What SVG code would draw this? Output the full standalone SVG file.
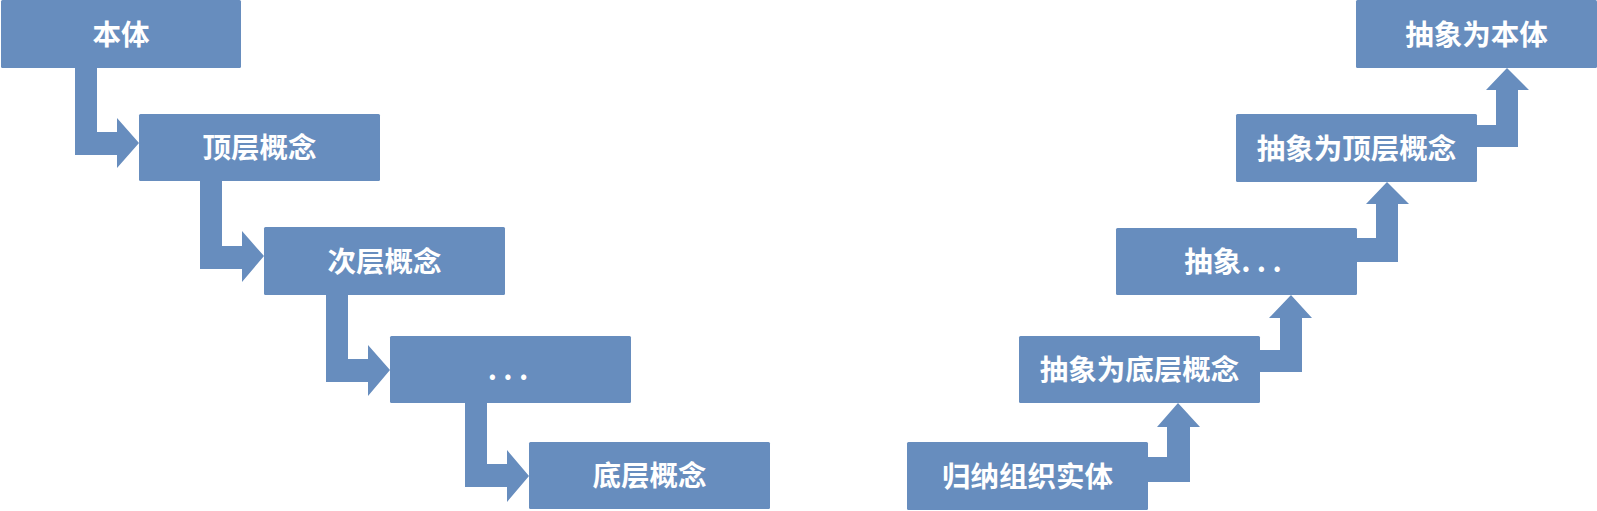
<svg xmlns="http://www.w3.org/2000/svg" width="1597" height="511" viewBox="0 0 1597 511">
<style>
.box{fill:#678DBE;}
.arrow{fill:#678DBE;}
.lbl{fill:#ffffff;font-family:"Noto Sans CJK SC","Liberation Sans",sans-serif;font-weight:bold;font-size:28.5px;text-anchor:middle;}
</style>
<rect width="1597" height="511" fill="#ffffff"/>
<g id="connectors">
<path class="arrow" d="M75,67 H97 V132 H117 V118 L139,143 L117,168 V155 H75 Z"/>
<path class="arrow" d="M200,180 H222 V246 H242 V231 L264,256 L242,282 V269 H200 Z"/>
<path class="arrow" d="M326,294 H348 V359 H368 V345 L390,370 L368,396 V382 H326 Z"/>
<path class="arrow" d="M465,402 H487 V464 H507 V450 L529,476 L507,502 V487 H465 Z"/>
<path class="arrow" d="M1147,457 H1167 V427 H1157 L1178,403 L1200,427 H1190 V482 H1147 Z"/>
<path class="arrow" d="M1259,350 H1280 V318 H1269 L1291,295 L1312,318 H1302 V372 H1259 Z"/>
<path class="arrow" d="M1356,238 H1376 V204 H1366 L1387,182 L1409,204 H1398 V262 H1356 Z"/>
<path class="arrow" d="M1476,125 H1496 V90 H1486 L1507,68 L1529,90 H1518 V147 H1476 Z"/>
</g>
<g id="n1"><rect class="box" x="1" y="0" width="240" height="68" rx="1.5"/><text class="lbl" x="121" y="45">本体</text></g>
<g id="n2"><rect class="box" x="139" y="114" width="241" height="67" rx="1.5"/><text class="lbl" x="259.5" y="158">顶层概念</text></g>
<g id="n3"><rect class="box" x="264" y="227" width="241" height="68" rx="1.5"/><text class="lbl" x="384.5" y="272">次层概念</text></g>
<g id="n4"><rect class="box" x="390" y="336" width="241" height="67" rx="1.5"/><text class="lbl" x="508" y="380">. . .</text></g>
<g id="n5"><rect class="box" x="529" y="442" width="241" height="67" rx="1.5"/><text class="lbl" x="649.5" y="486">底层概念</text></g>
<g id="m1"><rect class="box" x="907" y="442" width="241" height="68" rx="1.5"/><text class="lbl" x="1027.5" y="487">归纳组织实体</text></g>
<g id="m2"><rect class="box" x="1019" y="336" width="241" height="67" rx="1.5"/><text class="lbl" x="1139.5" y="380">抽象为底层概念</text></g>
<g id="m3"><rect class="box" x="1116" y="228" width="241" height="67" rx="1.5"/><text class="lbl" x="1233" y="272">抽象. . .</text></g>
<g id="m4"><rect class="box" x="1236" y="114" width="241" height="68" rx="1.5"/><text class="lbl" x="1356.5" y="159">抽象为顶层概念</text></g>
<g id="m5"><rect class="box" x="1356" y="0" width="241" height="68" rx="1.5"/><text class="lbl" x="1476.5" y="45">抽象为本体</text></g>
</svg>
